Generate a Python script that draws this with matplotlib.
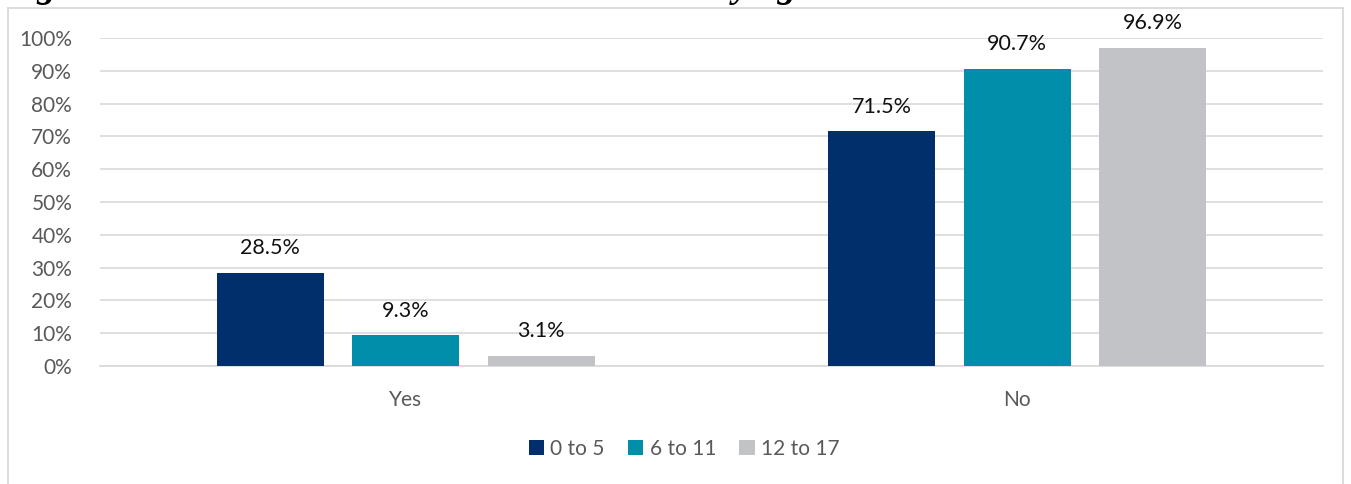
import numpy as np
import matplotlib.pyplot as plt
from matplotlib.lines import Line2D
from matplotlib.ticker import PercentFormatter

plt.rcParams['font.family'] = ['Lato', 'DejaVu Sans']

# data
categories = ['Yes', 'No']
series_names = ['0 to 5', '6 to 11', '12 to 17']
age_0_5 = [28.5, 71.5]
age_6_11 = [9.3, 90.7]
age_12_17 = [3.1, 96.9]
colors = ['#002F6C', '#008EAA', '#C1C3C6']

fig = plt.figure(figsize=(13.51, 4.84), dpi=100)
W, H = 1351, 484

# chart frame (cut off by the page at the bottom)
frame_kw = dict(transform=fig.transFigure, color='#D9D9D9', linewidth=1.3)
fig.lines.append(Line2D([8 / W, 1343 / W], [1 - 8 / H, 1 - 8 / H], **frame_kw))
fig.lines.append(Line2D([8 / W, 8 / W], [0, 1 - 8 / H], **frame_kw))
fig.lines.append(Line2D([1343 / W, 1343 / W], [0, 1 - 8 / H], **frame_kw))

# title, mostly outside the picture (only descenders show)
fig.text(2 / W, 1 + 3 / H, 'Figure 7: Children who have ever been tested by age',
         fontsize=27, fontweight='bold', fontstyle='italic',
         family='Liberation Serif', va='baseline', ha='left')

ax = fig.add_axes([100 / W, 1 - 366 / H, (1323 - 100) / W, (366 - 38) / H])

x = np.arange(len(categories))
width = 0.175
offset = 0.2216
for i, (vals, name) in enumerate(zip([age_0_5, age_6_11, age_12_17], series_names)):
    pos = x + (i - 1) * offset
    bars = ax.bar(pos, np.array(vals) / 100, width, color=colors[i], label=name, zorder=3)
    for b, v in zip(bars, vals):
        ax.text(b.get_x() + b.get_width() / 2, v / 100 + 0.045, f'{v:.1f}%',
                ha='center', va='bottom', fontsize=15.5, color='#111111', clip_on=False)

ax.set_xlim(-0.5, 1.5)
ax.set_ylim(0, 1.0)
ax.set_yticks(np.arange(0, 1.01, 0.1))
ax.yaxis.set_major_formatter(PercentFormatter(1.0, decimals=0))
ax.set_xticks(x)
ax.set_xticklabels(categories)
ax.tick_params(axis='both', length=0, labelsize=15, labelcolor='#595959')
ax.tick_params(axis='x', pad=17)
ax.tick_params(axis='y', pad=20)
ax.grid(axis='y', color='#D9D9D9', linewidth=1.2, zorder=0)
for s in ['top', 'right', 'left']:
    ax.spines[s].set_visible(False)
ax.spines['bottom'].set_color('#D9D9D9')
ax.spines['bottom'].set_linewidth(1.2)
ax.set_facecolor('none')

ax.legend(loc='center', bbox_to_anchor=(684 / W, 1 - 449 / H), bbox_transform=fig.transFigure,
          ncol=3, frameon=False, fontsize=15, labelcolor='#595959',
          handlelength=0.75, handleheight=0.75, handletextpad=0.3, columnspacing=1.1)

fig.savefig('out.png', dpi=100)
